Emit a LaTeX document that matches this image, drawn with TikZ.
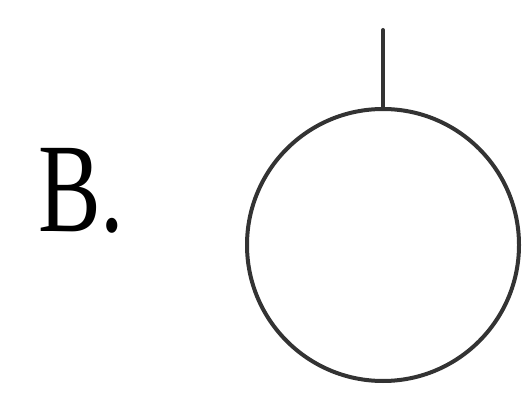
\documentclass[tikz,border=0pt]{standalone}
\usepackage{fontspec}
\setmainfont{Liberation Serif}
\begin{document}
\begin{tikzpicture}[x=1pt,y=-1pt,line cap=round,line join=round]
			\useasboundingbox (0,0) rectangle (524,395);
			\tikzset{wire/.style={line width=4pt,color=black!80}}
			\node[anchor=base west,inner sep=0pt,xscale=0.74] (label) at (38,232) {\fontsize{127}{127}\selectfont B.};
			\coordinate (O) at (383,245);
			\draw[wire] (O) circle (136);
			\coordinate (top) at (383,109);
			\coordinate (end) at (383,30);
			\draw[wire] (top)--(end);
		\end{tikzpicture}
\end{document}
